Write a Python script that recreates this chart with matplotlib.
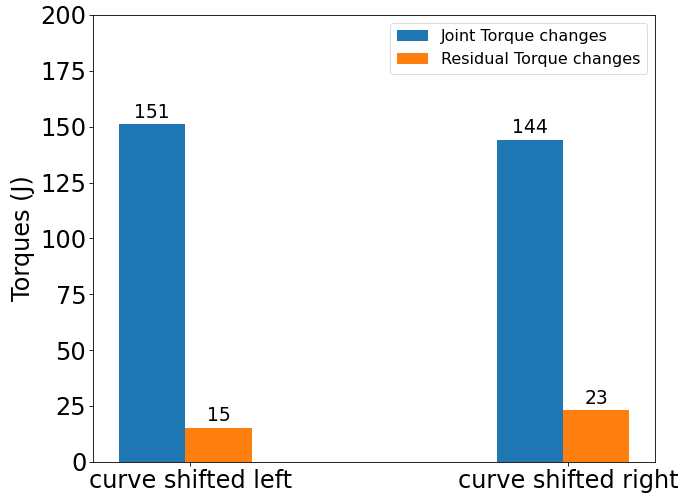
import matplotlib
matplotlib.use("Agg")
import matplotlib.pyplot as plt
import numpy as np

categories = ["curve shifted left", "curve shifted right"]
joint_torque = [151, 144]
residual_torque = [15, 23]
series_names = ["Joint Torque changes", "Residual Torque changes"]

fig = plt.figure(figsize=(6.83, 4.93), dpi=100)
ax = fig.add_axes([0.1366, 0.0635, 0.959 - 0.1366, 0.9696 - 0.0635])

x = np.arange(len(categories))
w = 0.176
b1 = ax.bar(x, joint_torque, w, color="#1f77b4", label=series_names[0])
b2 = ax.bar(x + w, residual_torque, w, color="#ff7f0e", label=series_names[1])

for bars, vals in ((b1, joint_torque), (b2, residual_torque)):
    for r, v in zip(bars, vals):
        ax.annotate(f"{v}", xy=(r.get_x() + r.get_width() / 2, r.get_height()),
                    xytext=(0, 2), textcoords="offset points",
                    ha="center", va="bottom", fontsize=13.5)

ax.set_ylim(0, 200)
ax.set_yticks(np.arange(0, 201, 25))
ax.set_xticks(x + 0.101)
ax.set_xticklabels(categories)
ax.tick_params(axis="both", labelsize=17.3, length=3, width=0.6, pad=2)
ax.set_ylabel("Torques (J)", fontsize=17.3, labelpad=4)
for s in ax.spines.values():
    s.set_linewidth(0.6)
leg = ax.legend(loc="upper right", fontsize=11.5, handlelength=2.0)
leg.get_frame().set_linewidth(0.6)

fig.savefig("out.png", dpi=100)
